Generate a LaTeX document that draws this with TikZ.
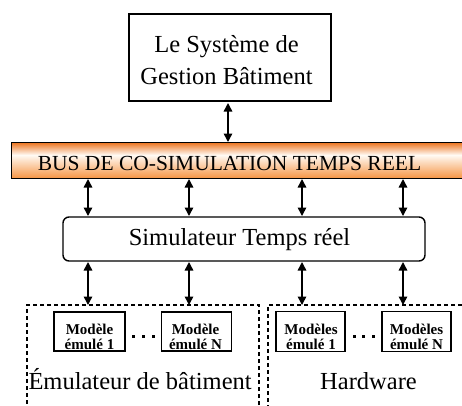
\documentclass[tikz,border=0pt]{standalone}
\usepackage{fontspec}
\setmainfont{Liberation Serif}
\usetikzlibrary{arrows.meta}
\definecolor{busTop}{RGB}{236,112,24}
\definecolor{busMid}{RGB}{255,250,244}
\definecolor{busBot}{RGB}{246,150,70}
\pgfdeclareverticalshading{busshade}{100bp}{color(0bp)=(busBot); color(25bp)=(busBot); color(57bp)=(busMid); color(75bp)=(busTop); color(100bp)=(busTop)}
\begin{document}
\begin{tikzpicture}[x=1pt,y=-1pt,
  box/.style={draw, line width=1.4pt, inner sep=0pt, outer sep=0pt},
  dashbox/.style={draw, line width=1.3pt, dash pattern=on 4pt off 3pt, inner sep=0pt, outer sep=0pt},
  txt/.style={inner sep=0pt, outer sep=0pt, anchor=base},
  big/.style={font=\fontsize{24.5}{29}\selectfont},
  small/.style={font=\fontsize{15}{18}\selectfont\bfseries},
  bi/.style={{Triangle[width=8.5pt,length=8.5pt]}-{Triangle[width=8.5pt,length=8.5pt]}, line width=1.5pt},
  dotsq/.style={fill=black, inner sep=0pt, minimum size=3pt}
]
\useasboundingbox (0,0) rectangle (462,405);

% top box
\node[box, minimum width=202pt, minimum height=87pt] (sys) at (230,57.5) {};
\node[txt, big] (sysA) at (226.5,52) {Le Système de};
\node[txt, big] (sysB) at (226.5,84) {Gestion Bâtiment};

% bus
\node[draw, line width=0.7pt, shading=busshade, inner sep=0pt, outer sep=0pt,
      minimum width=460pt, minimum height=36pt] (bus) at (241,160) {};
\node[txt, font=\fontsize{21.5}{26}\selectfont] (busT) at (229.5,170) {BUS DE CO-SIMULATION TEMPS REEL};

% simulator
\node[box, rounded corners=6pt, minimum width=362pt, minimum height=44pt] (sim) at (244,239) {};
\node[txt, big] (simT) at (239.5,245) {Simulateur Temps réel};

% dashed groups
\node[dashbox, minimum width=232pt, minimum height=120pt] (emu) at (143,365) {};
\node[dashbox, minimum width=212pt, minimum height=120pt] (hw) at (374,365) {};
\node[inner sep=0pt, outer sep=0pt, anchor=base west, big] (emuT) at (28.5,389) {Émulateur de bâtiment};
\node[txt, big] (hwT) at (368.5,389) {Hardware};

% model boxes
\node[box, minimum width=71pt, minimum height=39pt] (m1) at (89.5,331.5) {};
\node[txt, small] (m1a) at (89.5,334) {Modèle};
\node[txt, small] (m1b) at (89.5,349.5) {émulé 1};
\node[box, minimum width=70pt, minimum height=39pt] (m2) at (196.5,331.5) {};
\node[txt, small] (m2a) at (195.5,334) {Modèle};
\node[txt, small] (m2b) at (195.5,349.5) {émulé N};
\node[box, minimum width=69pt, minimum height=40pt] (m3) at (310.5,331.5) {};
\node[txt, small] (m3a) at (311,334) {Modèles};
\node[txt, small] (m3b) at (311,349.5) {émulé 1};
\node[box, minimum width=69pt, minimum height=40pt] (m4) at (416.5,331.5) {};
\node[txt, small] (m4a) at (416.5,334) {Modèles};
\node[txt, small] (m4b) at (416.5,349.5) {émulé N};

% dots
\node[dotsq] (d1) at (133.5,336.5) {};
\node[dotsq] (d2) at (143.5,336.5) {};
\node[dotsq] (d3) at (153.5,336.5) {};
\node[dotsq] (d4) at (354,336.5) {};
\node[dotsq] (d5) at (363.5,336.5) {};
\node[dotsq] (d6) at (373,336.5) {};

% connector columns
\coordinate (c0) at (228,0);
\coordinate (c1) at (88,0);
\coordinate (c2) at (189,0);
\coordinate (c3) at (302,0);
\coordinate (c4) at (403,0);

\draw[bi, shorten <=2pt] (sys.south -| c0) -- (bus.north -| c0);
\foreach \c in {c1,c2,c3,c4}{
  \draw[bi, shorten <=1pt, shorten >=1pt] (bus.south -| \c) -- (sim.north -| \c);
}
\draw[bi, shorten <=1pt] (sim.south -| c1) -- (emu.north -| c1);
\draw[bi, shorten <=1pt] (sim.south -| c2) -- (emu.north -| c2);
\draw[bi, shorten <=1pt] (sim.south -| c3) -- (hw.north -| c3);
\draw[bi, shorten <=1pt] (sim.south -| c4) -- (hw.north -| c4);
\end{tikzpicture}
\end{document}
